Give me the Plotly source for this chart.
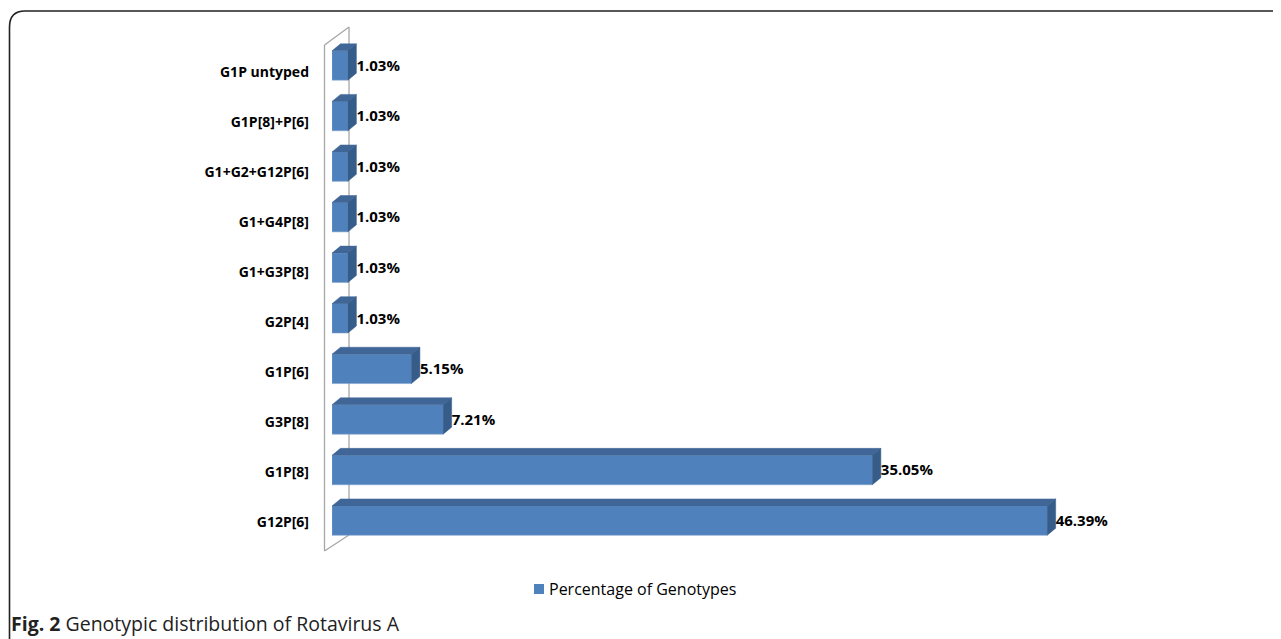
import plotly.graph_objects as go

# ---- data (bottom to top) ----
categories = ["G12P[6]", "G1P[8]", "G3P[8]", "G1P[6]", "G2P[4]",
              "G1+G3P[8]", "G1+G4P[8]", "G1+G2+G12P[6]", "G1P[8]+P[6]", "G1P untyped"]
values = [46.39, 35.05, 7.21, 5.15, 1.03, 1.03, 1.03, 1.03, 1.03, 1.03]
value_labels = ["46.39%", "35.05%", "7.21%", "5.15%", "1.03%",
                "1.03%", "1.03%", "1.03%", "1.03%", "1.03%"]
series_name = "Percentage of Genotypes"
caption = "<b>Fig. 2</b> Genotypic distribution of Rotavirus A"

# ---- layout geometry (page body has an 8px margin) ----
OFF = 8
W, H = 1281 - OFF, 639 - OFF
L, R, T, B = 332 - OFF, 24, 20 - OFF, 83
XMAX = 60.0
YMIN, YMAX = -0.7, 9.9
PW, PH = W - L - R, H - T - B
PXU = PH / (YMAX - YMIN)       # pixels per category unit
BAR_W = 0.58
DX = 8.5 * XMAX / PW           # depth offset in x data units (~8.5 px)
DY = 7.0 / PXU                 # depth offset in y data units (~7 px)

FRONT = "#4F81BD"
TOP = "#3F6697"
SIDE = "#365C8A"


def px(x):
    return (x - OFF - L) / PW


def py(y):
    return (H - B - (y - OFF)) / PH


ypos = list(range(len(categories)))
# category labels sit on the chart floor, slightly lower than the bar centres
tickpos = [i - (1 + 0.6 * i) / PXU for i in ypos]

fig = go.Figure()

# front faces
fig.add_trace(go.Bar(
    x=values, y=ypos, orientation="h", width=BAR_W, base=0,
    marker=dict(color=FRONT, line=dict(color="#7FA3CF", width=0.6)),
    name=series_name, showlegend=False, hoverinfo="skip"))

# top and side faces (3D depth) built from the values
tx, ty, sx, sy = [], [], [], []
for v, yc in zip(values, ypos):
    yt = yc + BAR_W / 2
    yb = yc - BAR_W / 2
    tx += [0, v, v + DX, DX, 0, None]
    ty += [yt, yt, yt + DY, yt + DY, yt, None]
    sx += [v, v + DX, v + DX, v, v, None]
    sy += [yb, yb + DY, yt + DY, yt, yb, None]
fig.add_trace(go.Scatter(x=tx, y=ty, fill="toself", fillcolor=TOP, mode="lines",
                         line=dict(color=TOP, width=0.5), showlegend=False, hoverinfo="skip"))
fig.add_trace(go.Scatter(x=sx, y=sy, fill="toself", fillcolor=SIDE, mode="lines",
                         line=dict(color=SIDE, width=0.5), showlegend=False, hoverinfo="skip"))

# data labels
fig.add_trace(go.Scatter(
    x=[v + DX for v in values], y=[y - 1.5 / PXU for y in ypos], mode="text",
    text=value_labels, textposition="middle right",
    textfont=dict(family="Open Sans", size=15, color="black", weight="bold"),
    showlegend=False, hoverinfo="skip", cliponaxis=False))

shapes = []
wall = dict(color="#A6A6A6", width=1.3)
# back wall outline
shapes.append(dict(type="line", xref="paper", yref="paper", x0=px(324.5), y0=py(45), x1=px(324.5), y1=py(551), line=wall, layer="below"))
shapes.append(dict(type="line", xref="paper", yref="paper", x0=px(349), y0=py(27), x1=px(349), y1=py(535), line=wall, layer="below"))
shapes.append(dict(type="line", xref="paper", yref="paper", x0=px(324.5), y0=py(45), x1=px(349), y1=py(27), line=wall, layer="below"))
shapes.append(dict(type="line", xref="paper", yref="paper", x0=px(324.5), y0=py(551), x1=px(349), y1=py(535), line=wall, layer="below"))

# frame with rounded top-left corner
path = (f"M {px(9.5)},{py(660)} L {px(9.5)},{py(27)} "
        f"Q {px(9.5)},{py(11)} {px(25)},{py(11)} L {px(1300)},{py(11)}")
shapes.append(dict(type="path", xref="paper", yref="paper", path=path,
                   line=dict(color="#222222", width=1.6)))

# legend marker
shapes.append(dict(type="rect", xref="paper", yref="paper",
                   x0=px(534), x1=px(544), y0=py(594), y1=py(584),
                   fillcolor=FRONT, line=dict(width=0)))

annotations = [
    dict(text=series_name, xref="paper", yref="paper", x=px(547), y=py(589),
         xanchor="left", yanchor="middle", showarrow=False,
         font=dict(family="Open Sans", size=16, color="black")),
    dict(text=caption, xref="paper", yref="paper", x=px(9), y=py(623),
         xanchor="left", yanchor="middle", showarrow=False,
         font=dict(family="Open Sans", size=19.5, color="#222222")),
]

fig.update_layout(
    width=W, height=H,
    margin=dict(l=L, r=R, t=T, b=B, pad=0),
    paper_bgcolor="white", plot_bgcolor="white",
    showlegend=False,
    shapes=shapes, annotations=annotations,
    xaxis=dict(range=[0, XMAX], visible=False, fixedrange=True),
    yaxis=dict(range=[YMIN, YMAX], tickvals=tickpos, ticktext=categories,
               showgrid=False, zeroline=False, showline=False, ticks="",
               ticklabelstandoff=22,
               tickfont=dict(family="Open Sans", size=14, color="black", weight="bold")),
)

fig.write_html("out.html")
